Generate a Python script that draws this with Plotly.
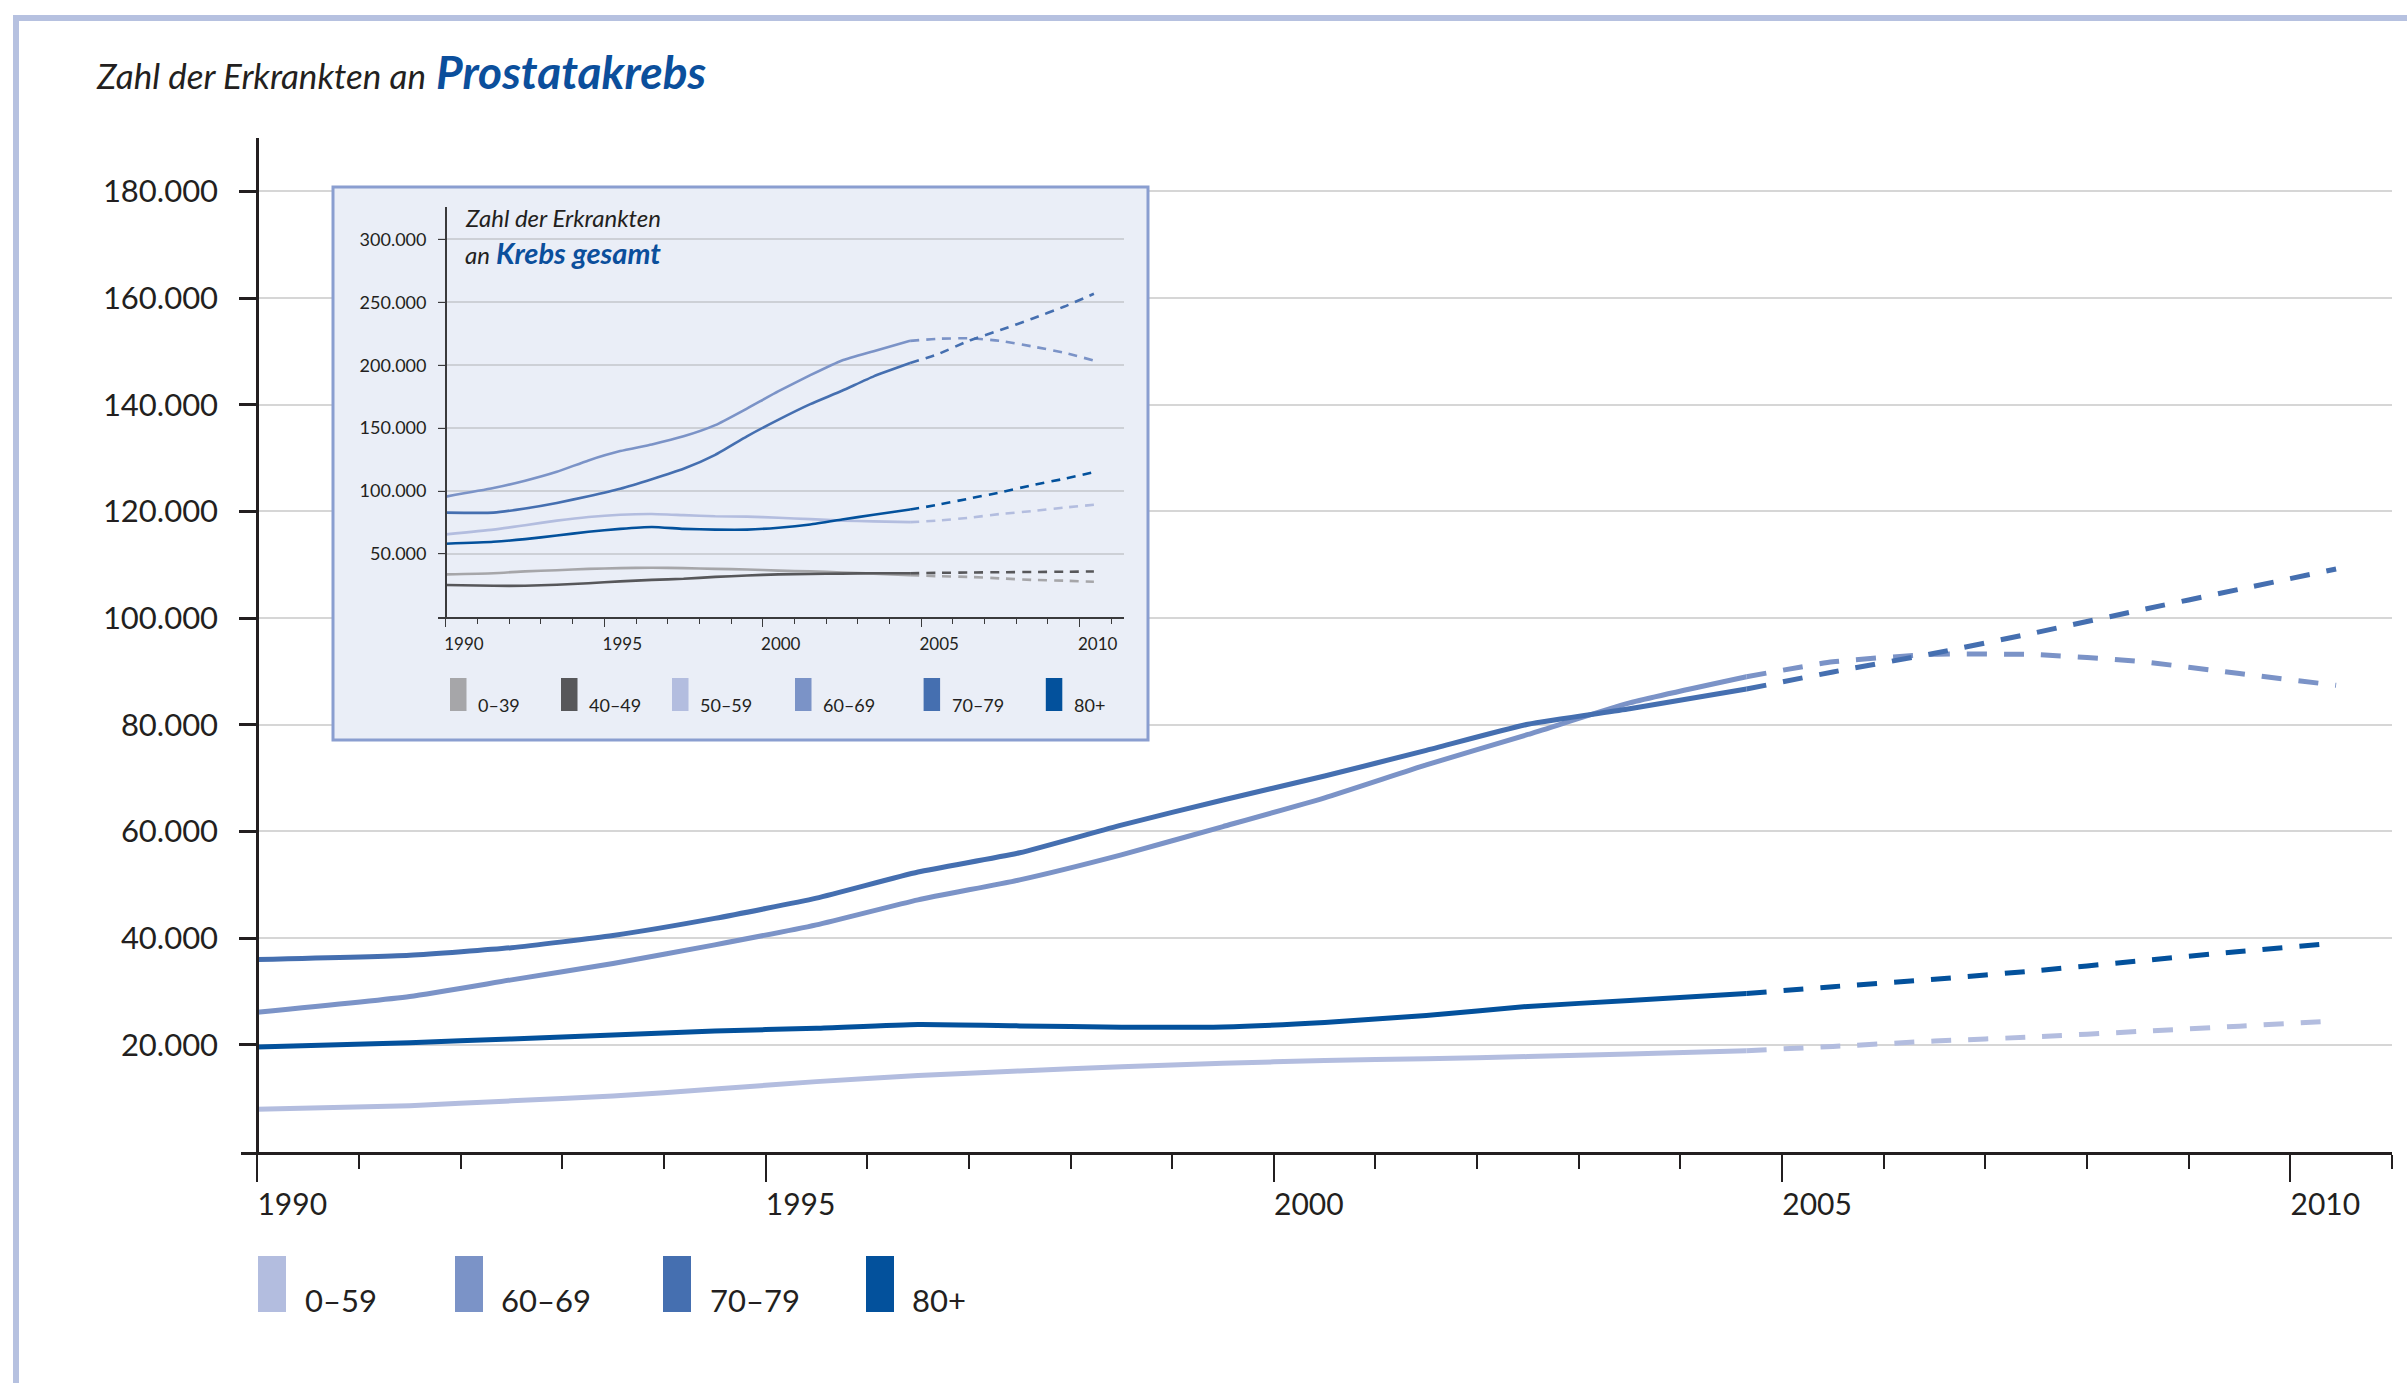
import plotly.graph_objects as go

W, H = 2407, 1383

# ---------------------------------------------------------------
# Prostatakrebs: Zahl der Erkrankten nach Altersgruppe
# (Jahreswerte jeweils zur Jahresmitte, ab 2004 Prognose)
# ---------------------------------------------------------------
jahre_ist = [1990.0, 1991.5, 1992.5, 1993.5, 1994.5, 1995.5, 1996.5, 1997.5,
             1998.5, 1999.5, 2000.5, 2001.5, 2002.5, 2003.5, 2004.65]
jahre_prognose = [2004.65, 2005.5, 2006.5, 2007.5, 2008.5, 2009.5, 2010.45]

altersgruppen = ["0–59", "60–69", "70–79", "80+"]

ist_0_59 = [7900, 8600, 9500, 10400, 11700, 13100, 14250, 15100,
            15900, 16550, 17050, 17400, 17800, 18300, 18900]
ist_60_69 = [26100, 29060, 32180, 35250, 38740, 42490, 47180, 50930,
             55620, 60920, 66310, 72480, 78180, 84100, 89000]
ist_70_79 = [36000, 36800, 38200, 40500, 43700, 47500, 52400, 56000,
             61200, 65900, 70400, 75200, 80100, 83000, 86700]
ist_80 = [19600, 20400, 21100, 21850, 22600, 23100, 23800, 23550,
          23300, 23350, 24200, 25500, 27200, 28300, 29600]

prog_0_59 = [18900, 19700, 20700, 21500, 22500, 23500, 24500]
prog_60_69 = [89000, 91800, 93200, 93150, 91900, 89600, 87400]
prog_70_79 = [86700, 89900, 93400, 97300, 101400, 105400, 109200]
prog_80 = [29600, 30900, 32300, 33900, 35700, 37500, 39100]

# ---------------------------------------------------------------
# Krebs gesamt (kleines Diagramm)
# ---------------------------------------------------------------
gesamt_gruppen = ["0–39", "40–49", "50–59", "60–69", "70–79", "80+"]

ges_ist_0_39 = [33800, 34700, 36200, 37100, 38200, 38800, 39100, 38800,
                38200, 37700, 36800, 36200, 35300, 34400, 33200]
ges_ist_40_49 = [25300, 24700, 24700, 25600, 26800, 28200, 29400, 30300,
                 31800, 32900, 33800, 34100, 34400, 34700, 34700]
ges_ist_50_59 = [65600, 69400, 72900, 76500, 79400, 81200, 81800, 80900,
                 80000, 79700, 78800, 77700, 76500, 75900, 75300]
ges_ist_60_69 = [95600, 102400, 108200, 115300, 124400, 131800, 137100, 143500,
                 152400, 165600, 179400, 192100, 203800, 211200, 219400]
ges_ist_70_79 = [82900, 82900, 86200, 90600, 95900, 101800, 109400, 117700,
                 128800, 143500, 156800, 169100, 179700, 191200, 201800]
ges_ist_80 = [58200, 59700, 61800, 64700, 67700, 70000, 71500, 70000,
              69400, 69400, 70900, 73500, 77400, 81200, 85300]

ges_prog_0_39 = [33200, 32400, 31800, 30600, 29400, 28800, 27900]
ges_prog_40_49 = [34700, 35000, 35300, 35500, 35700, 35900, 36100]
ges_prog_50_59 = [75300, 76500, 78800, 81800, 84100, 86800, 89100]
ges_prog_60_69 = [219400, 221000, 221500, 219400, 215000, 210000, 203800]
ges_prog_70_79 = [201800, 208500, 219500, 228000, 237000, 246500, 256800]
ges_prog_80 = [85300, 89000, 94000, 99000, 104700, 109700, 115000]

# Achsenbeschriftung
y_ticks = [20000, 40000, 60000, 80000, 100000, 120000, 140000, 160000, 180000]
y_ticks_gesamt = [50000, 100000, 150000, 200000, 250000, 300000]


def de(v):
    return f"{v:,}".replace(",", ".")


# Farben
FARBEN = {
    "0–39": "#a6a6a9",
    "40–49": "#57575a",
    "0–59": "#b3bddf",
    "50–59": "#b3bddf",
    "60–69": "#7b93c7",
    "70–79": "#456fb0",
    "80+": "#03519c",
}
TEXT = "#231f20"
BLAU = "#0b4f9c"
RAHMEN = "#b6c1e0"
FONT = "Lato"


def px(x):
    return x / W


def py(y):
    return 1 - y / H


fig = go.Figure()

# Hauptdiagramm
haupt = [
    ("0–59", ist_0_59, prog_0_59),
    ("60–69", ist_60_69, prog_60_69),
    ("70–79", ist_70_79, prog_70_79),
    ("80+", ist_80, prog_80),
]
for name, ist, prog in haupt:
    farbe = FARBEN[name]
    fig.add_trace(go.Scatter(
        x=jahre_ist, y=ist, mode="lines", name=name, showlegend=False,
        line=dict(color=farbe, width=5, shape="spline", smoothing=0.5),
        xaxis="x", yaxis="y", hoverinfo="skip"))
    fig.add_trace(go.Scatter(
        x=jahre_prognose, y=prog, mode="lines", name=name, showlegend=False,
        line=dict(color=farbe, width=5, dash="20px,17px", shape="spline", smoothing=0.5),
        xaxis="x", yaxis="y", hoverinfo="skip"))

# Kleines Diagramm: Krebs gesamt
gesamt = [
    ("0–39", ges_ist_0_39, ges_prog_0_39),
    ("40–49", ges_ist_40_49, ges_prog_40_49),
    ("50–59", ges_ist_50_59, ges_prog_50_59),
    ("60–69", ges_ist_60_69, ges_prog_60_69),
    ("70–79", ges_ist_70_79, ges_prog_70_79),
    ("80+", ges_ist_80, ges_prog_80),
]
for name, ist, prog in gesamt:
    farbe = FARBEN[name]
    fig.add_trace(go.Scatter(
        x=jahre_ist, y=ist, mode="lines", showlegend=False,
        line=dict(color=farbe, width=2.6, shape="spline", smoothing=0.5),
        xaxis="x2", yaxis="y2", hoverinfo="skip"))
    fig.add_trace(go.Scatter(
        x=jahre_prognose, y=prog, mode="lines", showlegend=False,
        line=dict(color=farbe, width=2.6, dash="9px,7px", shape="spline", smoothing=0.5),
        xaxis="x2", yaxis="y2", hoverinfo="skip"))

achse = dict(showline=True, linecolor=TEXT, zeroline=False, ticks="outside",
             tickcolor=TEXT, tickfont=dict(family=FONT, color=TEXT))

fig.update_layout(
    width=W, height=H,
    margin=dict(l=0, r=0, t=0, b=0),
    paper_bgcolor="white",
    plot_bgcolor="rgba(0,0,0,0)",
    font=dict(family=FONT, color=TEXT),
    showlegend=False,
    xaxis=dict(
        achse, domain=[px(241), px(2392)], range=[1989.84, 2011.0], anchor="y",
        linewidth=3, tickmode="linear", tick0=1990, dtick=5, ticklen=27, tickwidth=2,
        tickfont=dict(family=FONT, color=TEXT, size=30), ticklabelshift=35,
        ticklabelstandoff=-3, showgrid=False,
        minor=dict(dtick=1, tick0=1990, ticklen=14, tickwidth=2, tickcolor=TEXT,
                   ticks="outside", showgrid=False),
    ),
    yaxis=dict(
        achse, domain=[py(1151.5), py(138)], range=[0, 190000], anchor="free",
        position=px(257.3), linewidth=3, tickmode="array", tickvals=y_ticks,
        ticktext=[de(v) for v in y_ticks], ticklen=17, tickwidth=3,
        tickfont=dict(family=FONT, color=TEXT, size=31), ticklabelstandoff=15,
        showgrid=True, gridcolor="#d6d6d6", gridwidth=2,
    ),
    xaxis2=dict(
        achse, domain=[px(437.8), px(1124)], range=[1989.745, 2011.4], anchor="y2",
        linewidth=1.6, linecolor="#3a3a3c", tickmode="linear", tick0=1990, dtick=5,
        ticklen=8, tickwidth=1.4, tickcolor="#3a3a3c",
        tickfont=dict(family=FONT, color=TEXT, size=17), ticklabelshift=18,
        ticklabelstandoff=3, showgrid=False,
        minor=dict(dtick=1, tick0=1990, ticklen=5, tickwidth=1.4, tickcolor="#3a3a3c",
                   ticks="outside", showgrid=False),
    ),
    yaxis2=dict(
        achse, domain=[py(616.9), py(207)], range=[0, 325800], anchor="free",
        position=px(445.9), linewidth=1.6, linecolor="#3a3a3c", tickmode="array",
        tickvals=y_ticks_gesamt, ticktext=[de(v) for v in y_ticks_gesamt],
        ticklen=7, tickwidth=1.4, tickcolor="#3a3a3c",
        tickfont=dict(family=FONT, color=TEXT, size=18), ticklabelstandoff=8,
        showgrid=True, gridcolor="#cdd0d6", gridwidth=1.5,
    ),
)

shapes = []

# Rahmen oben und links
shapes.append(dict(type="line", xref="paper", yref="paper",
                   x0=px(13), x1=1, y0=py(18), y1=py(18),
                   line=dict(color=RAHMEN, width=6)))
shapes.append(dict(type="line", xref="paper", yref="paper",
                   x0=px(16), x1=px(16), y0=py(15), y1=0,
                   line=dict(color=RAHMEN, width=6)))

# Hintergrundkasten des kleinen Diagramms (zwischen Gitter und Linien des Hauptdiagramms)
x_per_px = (2011.0 - 1989.84) / (2392 - 241)
y_per_px = 190000 / (1151.5 - 138)
shapes.append(dict(type="rect", xref="x", yref="y", layer="between",
                   x0=1989.84 + (333 - 241) * x_per_px,
                   x1=1989.84 + (1148 - 241) * x_per_px,
                   y0=(1151.5 - 740) * y_per_px,
                   y1=(1151.5 - 187) * y_per_px,
                   line=dict(color="#8a9ed0", width=3),
                   fillcolor="#eaeef7"))

annotations = []

# Legende Hauptdiagramm
leg_bar_x = [258, 455, 663, 866]
leg_txt_x = [303, 499, 708, 910]
for name, bx, tx in zip(altersgruppen, leg_bar_x, leg_txt_x):
    shapes.append(dict(type="rect", xref="paper", yref="paper", layer="above",
                       x0=px(bx), x1=px(bx + 28), y0=py(1312), y1=py(1256),
                       line=dict(width=0), fillcolor=FARBEN[name]))
    annotations.append(dict(xref="paper", yref="paper", x=px(tx), y=py(1321),
                            xanchor="left", yanchor="bottom", showarrow=False,
                            text=name, font=dict(family=FONT, size=31, color=TEXT)))

# Legende kleines Diagramm
g_bar_x = [450, 561, 672, 795, 923.6, 1045.8]
g_txt_x = [476, 587, 698, 821, 950, 1072]
for name, bx, tx in zip(gesamt_gruppen, g_bar_x, g_txt_x):
    shapes.append(dict(type="rect", xref="paper", yref="paper", layer="above",
                       x0=px(bx), x1=px(bx + 16.5), y0=py(711), y1=py(678),
                       line=dict(width=0), fillcolor=FARBEN[name]))
    annotations.append(dict(xref="paper", yref="paper", x=px(tx), y=py(718),
                            xanchor="left", yanchor="bottom", showarrow=False,
                            text=name, font=dict(family=FONT, size=18, color=TEXT)))

# Titel
annotations.append(dict(xref="paper", yref="paper", x=px(94), y=py(98),
                        xanchor="left", yanchor="bottom", showarrow=False,
                        text="<i>Zahl der Erkrankten an</i>",
                        font=dict(family=FONT, size=35, color=TEXT)))
annotations.append(dict(xref="paper", yref="paper", x=px(434), y=py(101),
                        xanchor="left", yanchor="bottom", showarrow=False,
                        text="<b><i>Prostatakrebs</i></b>",
                        font=dict(family=FONT, size=46, color=BLAU)))

# Titel kleines Diagramm
annotations.append(dict(xref="paper", yref="paper", x=px(463), y=py(234),
                        xanchor="left", yanchor="bottom", showarrow=False,
                        text="<i>Zahl der Erkrankten</i>",
                        font=dict(family=FONT, size=24, color=TEXT)))
annotations.append(dict(xref="paper", yref="paper", x=px(463), y=py(271),
                        xanchor="left", yanchor="bottom", showarrow=False,
                        text="<i>an</i>",
                        font=dict(family=FONT, size=24, color=TEXT)))
annotations.append(dict(xref="paper", yref="paper", x=px(494), y=py(272),
                        xanchor="left", yanchor="bottom", showarrow=False,
                        text="<b><i>Krebs gesamt</i></b>",
                        font=dict(family=FONT, size=29, color=BLAU)))

fig.update_layout(shapes=shapes, annotations=annotations)

fig.write_html("out.html")
